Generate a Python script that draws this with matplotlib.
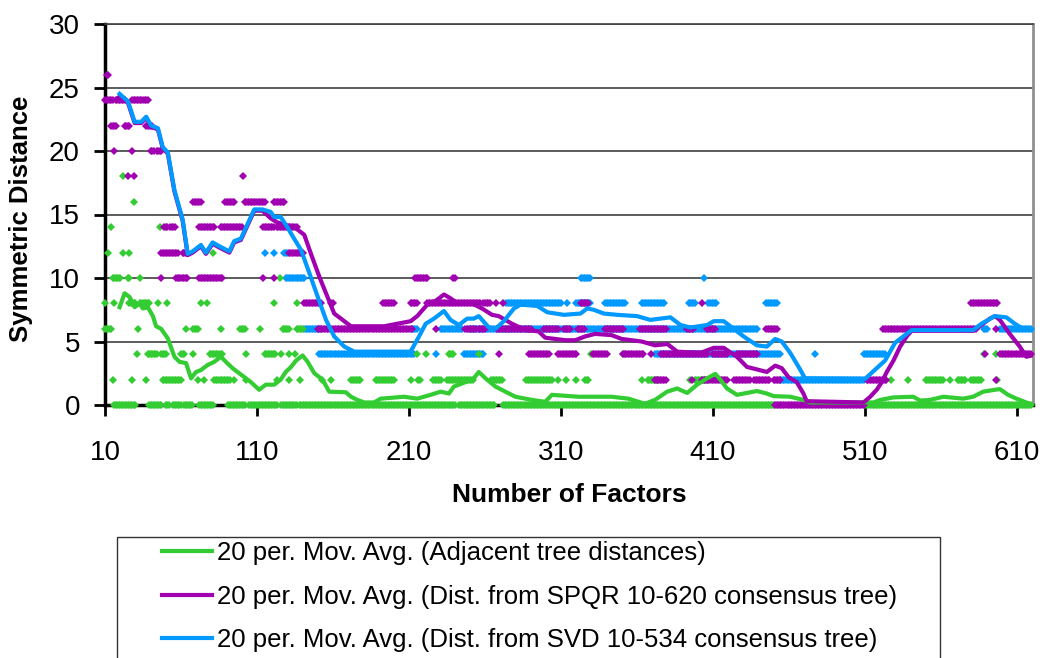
import matplotlib
matplotlib.use("Agg")
import matplotlib.pyplot as plt
from matplotlib.patches import Rectangle

plt.rcParams["font.family"] = ["Liberation Sans", "DejaVu Sans"]

GREEN = "#33cc33"
PURPLE = "#a000b0"
BLUE = "#0099ff"

# scatter bands: (level, first factor, last factor)
GREEN_RUNS = [
    (0, 16, 30), (0, 39, 47), (0, 50, 52), (0, 55, 60), (0, 62, 67), (0, 72, 81),
    (0, 91, 102), (0, 105, 123), (0, 126, 136), (0, 138, 240), (0, 243, 266),
    (0, 272, 450), (0, 509, 619),
    (2, 15, 15), (2, 28, 28), (2, 37, 37), (2, 48, 60), (2, 71, 71), (2, 75, 75),
    (2, 82, 92), (2, 95, 95), (2, 103, 103), (2, 123, 123), (2, 131, 131),
    (2, 138, 138), (2, 153, 153), (2, 159, 159), (2, 172, 178), (2, 188, 200),
    (2, 211, 211), (2, 216, 217), (2, 226, 231), (2, 235, 252), (2, 264, 271),
    (2, 287, 304), (2, 308, 308), (2, 313, 313), (2, 320, 320), (2, 326, 328),
    (2, 363, 363), (2, 367, 374), (2, 395, 395), (2, 398, 407), (2, 527, 527),
    (2, 538, 538), (2, 550, 561), (2, 566, 566), (2, 571, 576), (2, 580, 586),
    (2, 597, 597),
    (4, 31, 31), (4, 38, 44), (4, 47, 50), (4, 60, 62), (4, 68, 68), (4, 79, 87),
    (4, 103, 103), (4, 115, 122), (4, 126, 126), (4, 131, 131), (4, 135, 135),
    (4, 215, 215), (4, 221, 221), (4, 236, 239), (4, 256, 256), (4, 330, 330),
    (4, 351, 352), (4, 588, 588), (4, 596, 596),
    (6, 10, 14), (6, 32, 32), (6, 63, 63), (6, 68, 71), (6, 86, 86), (6, 99, 102),
    (6, 112, 112), (6, 127, 131), (6, 136, 140),
    (8, 10, 10), (8, 16, 16), (8, 26, 30), (8, 33, 39), (8, 45, 45), (8, 51, 51),
    (8, 73, 73), (8, 77, 77), (8, 121, 121), (8, 136, 136),
    (10, 15, 20), (10, 25, 26), (10, 33, 33), (10, 125, 125),
    (12, 12, 12), (12, 22, 22), (12, 26, 26), (12, 81, 81),
    (14, 14, 14), (14, 46, 46), (16, 29, 29), (18, 22, 22),
]

PURPLE_RUNS = [
    (26, 11, 12),
    (24, 10, 15), (24, 17, 23), (24, 28, 38),
    (22, 14, 17), (22, 23, 26), (22, 37, 41),
    (20, 16, 16), (20, 28, 28), (20, 40, 42), (20, 44, 47),
    (18, 25, 25), (18, 29, 29), (18, 101, 101),
    (16, 68, 73), (16, 89, 95), (16, 102, 115), (16, 121, 128),
    (14, 49, 51), (14, 53, 56), (14, 72, 82), (14, 86, 100), (14, 114, 121),
    (14, 123, 136),
    (12, 47, 58), (12, 61, 64), (12, 131, 140),
    (10, 47, 47), (10, 57, 64), (10, 72, 87), (10, 114, 114), (10, 121, 121),
    (10, 214, 222), (10, 239, 240),
    (8, 141, 152), (8, 159, 160), (8, 193, 200), (8, 211, 215), (8, 222, 257),
    (8, 259, 263), (8, 267, 267), (8, 272, 272), (8, 323, 328), (8, 403, 403),
    (8, 580, 597),
    (6, 150, 212), (6, 228, 228), (6, 247, 254), (6, 256, 260), (6, 268, 290),
    (6, 299, 308), (6, 312, 316), (6, 321, 325), (6, 339, 351), (6, 362, 379),
    (6, 393, 397), (6, 406, 411), (6, 445, 452), (6, 522, 583), (6, 596, 596),
    (4, 269, 269), (4, 289, 302), (4, 308, 320), (4, 331, 340), (4, 351, 364),
    (4, 369, 369), (4, 376, 406), (4, 410, 419), (4, 426, 439), (4, 589, 589),
    (4, 599, 619),
    (2, 372, 379), (2, 396, 396), (2, 403, 419), (2, 424, 434), (2, 437, 447),
    (2, 450, 454), (2, 511, 524), (2, 596, 596),
    (0, 451, 509),
]

BLUE_RUNS = [
    (12, 115, 115), (12, 121, 121), (12, 128, 130),
    (10, 129, 141), (10, 323, 329), (10, 404, 404),
    (8, 274, 310), (8, 314, 314), (8, 320, 329), (8, 339, 352), (8, 363, 378),
    (8, 394, 398), (8, 407, 412), (8, 445, 452),
    (6, 141, 152), (6, 212, 215), (6, 231, 245), (6, 250, 439), (6, 588, 590),
    (6, 599, 619),
    (4, 151, 213), (4, 228, 228), (4, 246, 259), (4, 372, 454), (4, 477, 477),
    (4, 509, 523),
    (2, 454, 509),
]

# 20 period moving averages, read as vertices
GREEN_MA_X = [19.6, 22.9, 26.2, 29.5, 32.8, 34.9, 38.2, 41.5, 43.6, 46.9, 51.3,
              55.7, 59, 63.3, 66.6, 69.9, 73.1, 77.5, 81.9, 86.3, 89.5, 93.9,
              99.4, 106, 111.4, 115.8, 121.3, 125.6, 128.9, 132.4, 135.7, 140,
              143.3, 147.7, 153.1, 157.5, 168.5, 171.8, 176.1, 180.5, 187, 191.4,
              206.8, 215.4, 224.2, 230.8, 236.2, 239.5, 247.2, 252.6, 255.9,
              260.3, 266.9, 273.4, 280, 290.9, 299.6, 304, 321.5, 343.3, 354.3,
              365.2, 371.8, 379.8, 386.4, 393, 399.5, 406.1, 411.5, 414.8, 419.2,
              425.7, 430.1, 438.9, 445.4, 449.8, 460.8, 469.5, 473.8, 515.6, 520,
              528.7, 541.8, 546.2, 552.7, 561.5, 574.6, 581.1, 587.7, 595.4,
              598.7, 604.1, 609.6, 616.1, 619.4]
GREEN_MA_Y = [7.7, 8.8, 8.5, 7.7, 8.0, 7.6, 7.7, 7.0, 6.2, 6.0, 5.25,
              3.8, 3.4, 3.3, 2.1, 2.6, 2.75, 3.15, 3.4, 3.8, 3.4, 2.9,
              2.4, 1.8, 1.2, 1.6, 1.6, 2.0, 2.6, 3.0, 3.5, 3.9,
              3.4, 2.5, 2.0, 1.05, 1.0, 0.65, 0.4, 0.2, 0.2, 0.5,
              0.65, 0.5, 0.8, 1.05, 0.9, 1.45, 1.8, 2.1, 2.6,
              2.1, 1.45, 1.05, 0.65, 0.4, 0.25, 0.8, 0.65, 0.65, 0.5,
              0.1, 0.4, 1.05, 1.3, 0.95, 1.6, 2.1, 2.45, 2.0, 1.3,
              0.8, 0.9, 1.1, 0.9, 0.7, 0.65, 0.4, 0.2, 0.2, 0.4,
              0.6, 0.65, 0.35, 0.4, 0.65, 0.5, 0.65, 1.05, 1.2,
              1.25, 0.8, 0.5, 0.2, 0.05]

PURPLE_MA_X = [19.6, 25.1, 29.5, 33.8, 37.1, 40.4, 44.8, 48, 51.3, 55.7, 61.1,
               64.4, 67.7, 73.1, 76.4, 80.8, 85.2, 91.8, 95, 99.4, 108.2, 113.6,
               119, 123, 128, 134.6, 141.1, 145.5, 151, 156.4, 160.8, 167.4,
               171.8, 193.6, 198, 211.1, 215.4, 222, 227.5, 233, 237.3, 242,
               251.5, 258, 264.6, 269, 277.7, 286.5, 295.2, 299.6, 312.8, 319.3,
               325.9, 332.4, 343.3, 349.9, 363, 371.8, 380, 386.4, 401.7, 410.5,
               417, 425.7, 432.3, 438.9, 445.4, 450.9, 455.2, 459.6, 465.1,
               469.5, 471.6, 509, 513.4, 517.7, 521, 524.3, 528.7, 533.1, 537.4,
               540.7, 581.1, 585.5, 592.1, 595.4, 598.7, 605.2, 611.8, 616.1, 619.4]
PURPLE_MA_Y = [24.3, 23.8, 22.2, 22.2, 22.6, 21.9, 21.7, 20.2, 19.8, 16.8, 14.5,
               11.8, 12.0, 12.5, 11.9, 12.7, 12.4, 12.0, 12.8, 13.0, 15.3, 15.3,
               14.7, 14.4, 14.2, 14.0, 13.4, 11.9, 10.1, 8.5, 7.2, 6.6,
               6.2, 6.2, 6.3, 6.6, 7.0, 7.9, 8.2, 8.7, 8.4, 8.0,
               8.0, 7.6, 7.1, 7.0, 6.4, 5.9, 5.8, 5.3, 5.1, 5.1,
               5.4, 5.6, 5.5, 5.2, 5.0, 4.7, 4.8, 4.2, 4.1, 4.5,
               4.5, 3.8, 3.0, 2.8, 2.6, 3.1, 2.9, 2.2, 1.8,
               0.9, 0.3, 0.2, 0.65, 1.2, 1.8, 2.6, 3.5, 4.6, 5.4,
               5.85, 5.85, 6.2, 6.8, 7.0, 6.7, 5.6, 4.6, 3.8, 3.9]

BLUE_MA_X = [19.6, 25.1, 29.5, 33.8, 37.1, 40.4, 44.8, 48, 51.3, 55.7, 61.1,
             64.4, 67.7, 73.1, 76.4, 80.8, 85.2, 91.8, 95, 99.4, 108.2, 113.6,
             119, 121.3, 125.6, 130, 132.4, 139, 144.4, 150, 155.4, 160.8, 167.4,
             174, 211, 216.6, 221, 226.4, 233, 237.3, 242.8, 248.2, 252.6, 255.9,
             262.5, 266.9, 272.4, 279, 283.4, 294.4, 301, 311.9, 322.8, 327.2,
             331.5, 338.1, 346.9, 360, 368.7, 375.2, 382, 388.6, 395.1, 406.1,
             410.5, 417, 423.6, 430.1, 438.9, 445.4, 450.9, 455.2, 460.8, 467.3,
             470.5, 510, 517.7, 523.2, 529.8, 535.2, 540.7, 581.1, 586.6, 595.4,
             603, 608.5, 613.9, 619.4]
BLUE_MA_Y = [24.5, 23.9, 22.3, 22.3, 22.7, 22.0, 21.8, 20.3, 19.9, 16.9, 14.6,
             11.9, 12.1, 12.6, 12.0, 12.8, 12.5, 12.1, 12.9, 13.1, 15.4, 15.4,
             15.2, 14.8, 14.8, 14.0, 13.5, 12.2, 10.4, 8.5, 6.7, 5.4, 4.6,
             4.2, 4.2, 5.4, 6.4, 6.8, 7.4, 6.7, 6.3, 6.8, 6.8, 7.0,
             6.1, 6.0, 6.6, 7.6, 7.9, 7.8, 7.3, 7.1, 7.2, 7.6,
             7.5, 7.2, 7.1, 7.0, 6.7, 6.8, 6.9, 6.3, 6.1, 6.3,
             6.6, 6.6, 6.0, 5.4, 4.7, 4.6, 5.2, 5.0, 4.1, 2.8,
             2.1, 2.05, 2.9, 3.5, 4.9, 5.4, 5.9, 5.9, 6.4, 7.0,
             6.9, 6.4, 6.0, 5.9]

LEGEND_LABELS = [
    "20 per. Mov. Avg. (Adjacent tree distances)",
    "20 per. Mov. Avg. (Dist. from SPQR 10-620 consensus tree)",
    "20 per. Mov. Avg. (Dist. from SVD 10-534 consensus tree)",
]
X_TICKS = [10, 110, 210, 310, 410, 510, 610]
Y_TICKS = [0, 5, 10, 15, 20, 25, 30]


def expand(runs):
    xs, ys = [], []
    for level, first, last in runs:
        for x in range(first, last + 1):
            xs.append(x)
            ys.append(level)
    return xs, ys


fig = plt.figure(figsize=(10.46, 6.58), dpi=100)
ax = fig.add_axes([105 / 1046, 1 - 405 / 658, 928 / 1046, 381 / 658])

# dots first, blue under green under purple
for runs, color in [(BLUE_RUNS, BLUE), (GREEN_RUNS, GREEN), (PURPLE_RUNS, PURPLE)]:
    xs, ys = expand(runs)
    ax.plot(xs, ys, ls="none", marker="D", ms=3.6, mew=0, color=color,
            clip_on=False, zorder=3)

lines = []
for x, y, color in [(GREEN_MA_X, GREEN_MA_Y, GREEN),
                    (PURPLE_MA_X, PURPLE_MA_Y, PURPLE),
                    (BLUE_MA_X, BLUE_MA_Y, BLUE)]:
    (ln,) = ax.plot(x, y, color=color, lw=3, solid_joinstyle="round",
                    zorder=4)
    lines.append(ln)

ax.set_xlim(10, 620.5)
ax.set_ylim(0, 30)
ax.set_xticks(X_TICKS)
ax.set_yticks(Y_TICKS)
ax.yaxis.grid(True, color="#404040", lw=1.2)
ax.set_axisbelow(True)

for side in ["left", "bottom"]:
    ax.spines[side].set_linewidth(2.5)
    ax.spines[side].set_color("black")
ax.spines["top"].set_color("#404040")
ax.spines["top"].set_linewidth(1.2)
ax.spines["right"].set_color("#909090")
ax.spines["right"].set_linewidth(2)

ax.tick_params(axis="both", direction="out", length=8, width=2, labelsize=20)
ax.tick_params(axis="y", pad=10)
ax.tick_params(axis="x", pad=17)

ax.set_xlabel("Number of Factors", fontsize=19, fontweight="bold", va="center")
ax.xaxis.set_label_coords(0.5, -90 / 381)
ax.set_ylabel("Symmetric Distance", fontsize=18.5, fontweight="bold", va="center")
ax.yaxis.set_label_coords(-84 / 928, 0.488)

fig.legend(lines, LEGEND_LABELS, loc="upper left",
           bbox_to_anchor=(162 / 1046, 1 - 541 / 658), frameon=False,
           fontsize=18.5, handlelength=1.95, handletextpad=0.2,
           labelspacing=0.76, borderpad=0, borderaxespad=0)
fig.patches.append(Rectangle((117 / 1046, -0.05), 823 / 1046,
                             (658 - 537) / 658 + 0.05,
                             transform=fig.transFigure, fill=False,
                             edgecolor="#333333", lw=1))

fig.savefig("out.png", dpi=100)
